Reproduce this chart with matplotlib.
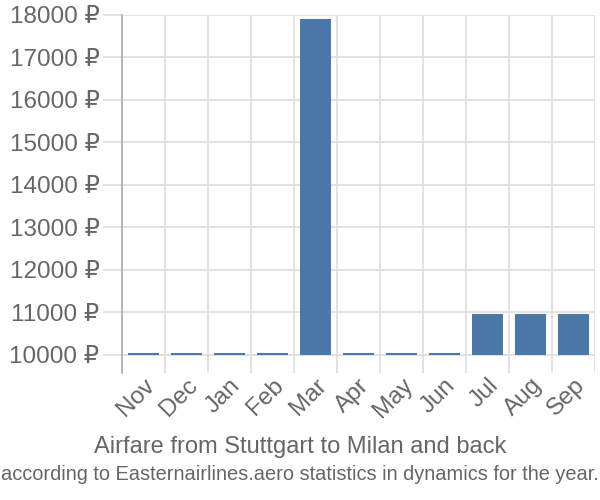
import matplotlib.pyplot as plt
import numpy as np

plt.rcParams['font.family'] = ['Liberation Sans', 'DejaVu Sans']

# Monthly airfare, Stuttgart - Milan and back
months = ['Nov', 'Dec', 'Jan', 'Feb', 'Mar', 'Apr', 'May', 'Jun', 'Jul', 'Aug', 'Sep']
prices = [10050, 10050, 10050, 10050, 17900, 10050, 10050, 10050, 10970, 10970, 10970]
y_ticks = [10000, 11000, 12000, 13000, 14000, 15000, 16000, 17000, 18000]
base = 10000

text_color = '#666666'
grid_color = '#dddddd'

fig = plt.figure(figsize=(6, 5), dpi=100)
ax = fig.add_axes([0.203, 0.254, 0.789, 0.716])

x = np.arange(len(months))
heights = np.array(prices) - base
ax.bar(x, heights, bottom=base, width=0.72, color='#4c78a8', zorder=3)

ax.set_xlim(-0.5, len(months) - 0.5)
ax.set_ylim(9576, 18000)

# grid lines between categories
ax.set_xticks(np.arange(len(months) + 1) - 0.5)
ax.set_xticklabels([])
ax.tick_params(axis='x', which='major', length=0)
ax.set_xticks(x, minor=True)
ax.set_xticklabels(months, minor=True, rotation=45, ha='right', rotation_mode='anchor',
                   fontsize=17.5, color=text_color)
ax.tick_params(axis='x', which='minor', length=0, pad=1)
ax.grid(True, axis='x', which='major', color=grid_color, lw=1.2, zorder=0)

ax.set_yticks(y_ticks)
ax.set_yticklabels([f'{v} ₽' for v in y_ticks], fontsize=17.5, color=text_color)
ax.tick_params(axis='y', length=14, color=grid_color, width=1.2, pad=2)
ax.grid(True, axis='y', color=grid_color, lw=1.2, zorder=0)

for side in ['top', 'right', 'bottom']:
    ax.spines[side].set_visible(False)
ax.spines['left'].set_color('#aaaaaa')
ax.spines['left'].set_linewidth(1.2)

fig.text(0.5, 1 - 453 / 500, 'Airfare from Stuttgart to Milan and back',
         ha='center', va='baseline', fontsize=17, color=text_color)
fig.text(0.5, 1 - 480 / 500,
         'according to Easternairlines.aero statistics in dynamics for the year.',
         ha='center', va='baseline', fontsize=14.4, color=text_color)

fig.savefig('out.png', dpi=100)
